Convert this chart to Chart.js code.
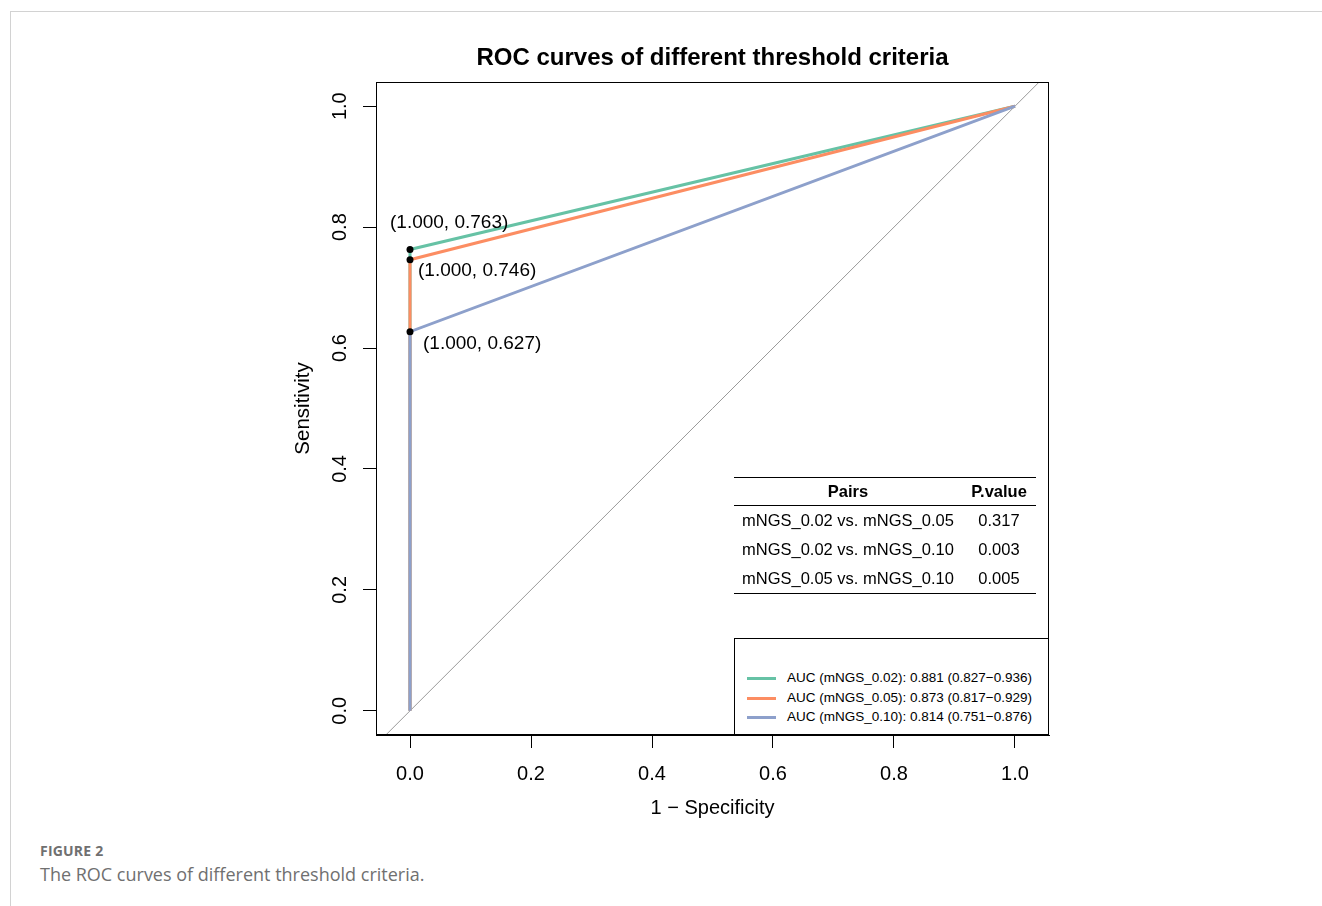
<!DOCTYPE html>
<html>
<head>
<meta charset="utf-8">
<title>ROC curves</title>
<script src="https://cdn.jsdelivr.net/npm/chart.js@4.4.1/dist/chart.umd.min.js"></script>
<style>
  body { margin: 0; background: #fff; width: 1322px; height: 906px; position: relative; overflow: hidden; }
  #frame { position: absolute; left: 10px; top: 11px; right: 0; bottom: 0; border-top: 1px solid #d2d2d2; border-left: 1px solid #d2d2d2; }
  #wrap { position: absolute; left: 0; top: 0; width: 1322px; height: 840px; }
  #plotTitle { position: absolute; left: 376px; width: 673px; top: 44px; text-align: center;
    font: bold 24px "Liberation Sans", Arial, sans-serif; line-height: 26px; color: #000; }
  #pTable { position: absolute; left: 734px; top: 477px; width: 302px; border-collapse: collapse;
    font: 16.5px "Liberation Sans", Arial, sans-serif; color: #000; }
  #pTable th { font-weight: bold; height: 27px; padding: 0; border-top: 1px solid #000; border-bottom: 1px solid #000; }
  #pTable td { height: 29px; padding: 0; }
  #pTable td.pair { padding-left: 8px; }
  #pTable td.pv { text-align: center; }
  #pTable tr:last-child td { border-bottom: 1px solid #000; }
  #aucLegend { position: absolute; left: 734px; top: 638px; width: 313px; height: 95px;
    border-left: 1px solid #000; border-top: 1px solid #000; background: #fff;
    font: 13.5px "Liberation Sans", Arial, sans-serif; color: #000; }
  .leg-item { position: absolute; left: 0; height: 18px; line-height: 18px; white-space: nowrap; }
  .leg-item span.sw { position: absolute; left: 12px; top: 8px; width: 29px; height: 3px; }
  .leg-item span.tx { position: absolute; left: 52px; top: 0; }
  #caption { position: absolute; left: 40px; top: 840px; font-family: "Open Sans", sans-serif; color: #707070; }
  #caption .fig { font-size: 14px; font-weight: bold; line-height: 22px; letter-spacing: 0.2px; }
  #caption .txt { font-size: 18px; line-height: 24px; }
</style>
</head>
<body>
<div id="frame"></div>
<div id="wrap"><canvas id="rocChart" width="1322" height="840"></canvas></div>
<div id="plotTitle">ROC curves of different threshold criteria</div>
<table id="pTable"></table>
<div id="aucLegend"></div>
<div id="caption">
  <div class="fig">FIGURE 2</div>
  <div class="txt">The ROC curves of different threshold criteria.</div>
</div>
<script>
// ROC data (x = 1 - specificity, y = sensitivity)
const seriesNames = ["mNGS_0.02", "mNGS_0.05", "mNGS_0.10"];
const seriesColors = ["#66C2A5", "#FC8D62", "#8DA0CB"];
const rocX = [0, 0, 1];
const rocY002 = [0, 0.763, 1];
const rocY005 = [0, 0.746, 1];
const rocY010 = [0, 0.627, 1];

const aucText = ["0.881 (0.827\u22120.936)", "0.873 (0.817\u22120.929)", "0.814 (0.751\u22120.876)"];

// best thresholds (specificity, sensitivity)
const thrX = [0, 0, 0];
const thrSpec = [1.000, 1.000, 1.000];
const thrSens = [0.763, 0.746, 0.627];
// where to put each label, relative to its point (px)
const thrLabelOffset = [[-20, -27], [8, 11], [13, 12]];

const diagX = [-0.1, 1.1];
const diagY = [-0.1, 1.1];

const tickValues = [0, 0.2, 0.4, 0.6, 0.8, 1.0];

const pairNames = ["mNGS_0.02 vs. mNGS_0.05", "mNGS_0.02 vs. mNGS_0.10", "mNGS_0.05 vs. mNGS_0.10"];
const pValues = ["0.317", "0.003", "0.005"];

const FONT = "'Liberation Sans', Arial, sans-serif";

function toPoints(xs, ys) {
  return xs.map((x, i) => ({ x: x, y: ys[i] }));
}

function buildTable() {
  let html = "<tr><th style='width:228px'>Pairs</th><th>P.value</th></tr>";
  for (let i = 0; i < pairNames.length; i++) {
    html += "<tr><td class='pair'>" + pairNames[i] + "</td><td class='pv'>" + pValues[i] + "</td></tr>";
  }
  document.getElementById("pTable").innerHTML = html;
}

function buildLegend() {
  const box = document.getElementById("aucLegend");
  const tops = [30, 49.5, 69];
  let html = "";
  for (let i = 0; i < seriesNames.length; i++) {
    html += "<div class='leg-item' style='top:" + tops[i] + "px'>" +
      "<span class='sw' style='background:" + seriesColors[i] + "'></span>" +
      "<span class='tx'>AUC (" + seriesNames[i] + "): " + aucText[i] + "</span></div>";
  }
  box.innerHTML = html;
}

const boxPlugin = {
  id: "plotBox",
  afterDraw(chart) {
    const a = chart.chartArea;
    const ctx = chart.ctx;
    ctx.save();
    ctx.strokeStyle = "#000";
    ctx.lineWidth = 1;
    ctx.strokeRect(Math.round(a.left) + 0.5, Math.round(a.top) + 0.5,
      Math.round(a.right - a.left) - 1, Math.round(a.bottom - a.top) - 1);
    ctx.restore();
  }
};

const thrLabelPlugin = {
  id: "thrLabels",
  afterDatasetsDraw(chart) {
    const xs = chart.scales.x;
    const ys = chart.scales.y;
    const ctx = chart.ctx;
    ctx.save();
    ctx.font = "19px " + FONT;
    ctx.fillStyle = "#000";
    ctx.textAlign = "left";
    ctx.textBaseline = "middle";
    for (let i = 0; i < thrSens.length; i++) {
      const px = xs.getPixelForValue(thrX[i]);
      const py = ys.getPixelForValue(thrSens[i]);
      const label = "(" + thrSpec[i].toFixed(3) + ", " + thrSens[i].toFixed(3) + ")";
      ctx.fillText(label, px + thrLabelOffset[i][0], py + thrLabelOffset[i][1]);
    }
    ctx.restore();
  }
};

function setTicks(scale) {
  scale.ticks = tickValues.map(v => ({ value: v }));
}

function makeChart() {
  const ctx = document.getElementById("rocChart").getContext("2d");
  const ys = [rocY002, rocY005, rocY010];
  const datasets = [
    {
      label: "diag",
      data: toPoints(diagX, diagY),
      borderColor: "#9a9a9a",
      borderWidth: 1,
      pointRadius: 0,
      showLine: true,
      clip: 0,
      order: 10
    }
  ];
  for (let i = 0; i < seriesNames.length; i++) {
    datasets.push({
      label: seriesNames[i],
      data: toPoints(rocX, ys[i]),
      borderColor: seriesColors[i],
      backgroundColor: seriesColors[i],
      borderWidth: 3,
      pointRadius: 0,
      showLine: true,
      tension: 0,
      order: 5 - i
    });
  }
  datasets.push({
    label: "thresholds",
    data: toPoints(thrX, thrSens),
    backgroundColor: "#000",
    borderColor: "#000",
    pointRadius: 3.5,
    pointBorderWidth: 0,
    showLine: false,
    order: 0
  });

  new Chart(ctx, {
    type: "scatter",
    data: { datasets: datasets },
    options: {
      responsive: false,
      animation: false,
      events: [],
      layout: { padding: { left: 270, top: 82, right: 273, bottom: 0 } },
      plugins: {
        legend: { display: false },
        title: { display: false },
        tooltip: { enabled: false }
      },
      scales: {
        x: {
          type: "linear",
          min: -0.0562,
          max: 1.0562,
          afterBuildTicks: setTicks,
          afterFit(scale) { scale.height = 105; },
          border: { display: true, color: "#000", width: 1 },
          grid: { drawOnChartArea: false, drawTicks: true, tickLength: 13, color: "#000", tickColor: "#000" },
          ticks: {
            color: "#000",
            font: { family: FONT, size: 20 },
            padding: 14,
            maxRotation: 0,
            callback: v => Number(v).toFixed(1)
          },
          title: {
            display: true,
            text: "1 \u2212 Specificity",
            color: "#000",
            font: { family: FONT, size: 20 },
            padding: { top: 0, bottom: 20 }
          }
        },
        y: {
          type: "linear",
          min: -0.04,
          max: 1.04,
          afterBuildTicks: setTicks,
          afterFit(scale) { scale.width = 106; },
          border: { display: true, color: "#000", width: 1 },
          grid: { drawOnChartArea: false, drawTicks: true, tickLength: 13, color: "#000", tickColor: "#000" },
          ticks: {
            color: "#000",
            font: { family: FONT, size: 20 },
            padding: 9,
            minRotation: 90,
            maxRotation: 90,
            crossAlign: "center",
            callback: v => Number(v).toFixed(1)
          },
          title: {
            display: true,
            text: "Sensitivity",
            color: "#000",
            font: { family: FONT, size: 20.5 },
            padding: { top: 21, bottom: 0 }
          }
        }
      }
    },
    plugins: [boxPlugin, thrLabelPlugin]
  });
}

buildTable();
buildLegend();
makeChart();
</script>
</body>
</html>
